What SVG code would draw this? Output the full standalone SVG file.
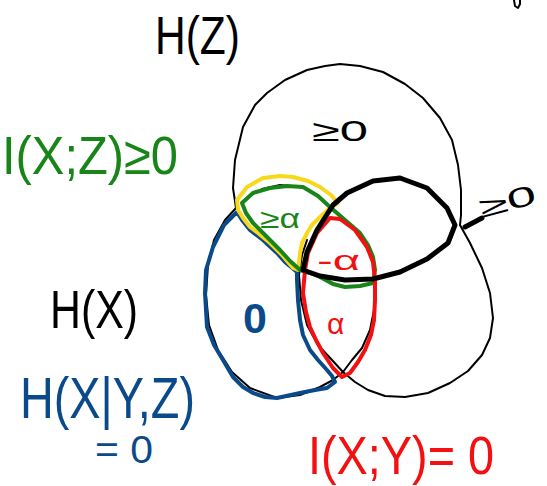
<svg xmlns="http://www.w3.org/2000/svg" width="547" height="486" viewBox="0 0 547 486">
<style>
.ln{fill:none;stroke-linecap:round;stroke-linejoin:round}
.thin{stroke:#000;stroke-width:2}
.thick{stroke:#000;stroke-width:5}
.g{stroke:#178517;stroke-width:4}
.b{stroke:#0b4a8a;stroke-width:4}
.r{stroke:#f21010;stroke-width:4}
.y{stroke:#f8d81c;stroke-width:4}
text{font-family:"Liberation Sans","DejaVu Sans",sans-serif;}
.tk{fill:#000}
.tg{fill:#178517}
.tb{fill:#0b4a8a}
.tr{fill:#f21010}
</style>
<rect width="547" height="486" fill="#fff"/>
<g id="circles">
<path id="circleZ" class="ln thin" d="M236,208 L233,188 L235,160 L243,127 L255,105 L267,93 L285,80 L307,70 L325,66 L340,64 L360,66 L383,72 L405,84 L423,98 L440,118 L452,140 L458,165 L461,190 L461,215 L460,225"/>
<path id="circleY" class="ln thin" d="M460,225 L470,243 L482,268 L490,293 L493,318 L490,338 L482,355 L468,371 L450,383 L428,393 L405,397 L385,396 L368,390 L355,382 L343,372 L332,360 L318,345 L307,325 L301,300 L299,275 L302,255 L307,240"/>
<path id="circleX" class="ln thin" d="M236,208 L225,220 L214,240 L208,265 L206,295 L209,325 L218,350 L232,372 L250,388 L277,398 L300,395 L320,387 L333,380 L343,372 L352,360 L362,348 L370,330 L375,305 L376,285"/>
<path class="ln thin" d="M262,189 L280,185 L300,187" stroke-width="3"/>
</g>
<g id="regionXnoYZ">
<path class="ln b" d="M237,212 L224,225 L213,247 L206,270 L205,293 L207,327 L214,345 L223,360 L233,377 L243,387 L253,393 L265,397 L277,398 L300,393 L315,390 L327,388 L335,382 L332,376 L327,370 L318,360 L310,350 L303,335 L300,320 L298,300 L297,280 L297,272 L285,262 L277,253 L263,240 L250,230 L242,220 Z"/>
</g>
<g id="regionXZ">
<path class="ln y" d="M237,200 L247,187 L263,178 L280,176 L293,177 L308,181 L320,187 L331,195 L338,203 L330,208 L320,217 L312,225 L307,233 L302,243 L300,253 L299,262 L298,270 L293,268 L282,255 L270,243 L258,233 L250,227 L243,218 L238,210 Z"/>
<path class="ln g" d="M242,203 L253,193 L270,188 L287,186 L303,187 L318,196 L330,207 L345,220 L360,233 L368,245 L373,257 L375,270 L373,283 L360,286 L345,287 L333,284 L320,277 L310,273 L300,270 L290,261 L280,250 L273,243 L263,233 L253,223 L246,213 Z"/>
</g>
<g id="regionXY">
<path class="ln r" d="M330,218 L317,233 L308,253 L305,270 L303,293 L306,312 L310,327 L316,340 L323,353 L333,368 L342,377 L350,373 L358,362 L365,350 L371,335 L374,320 L375,300 L375,280 L373,262 L367,247 L355,230 L340,219 Z"/>
</g>
<g id="ellipseYZ">
<path class="ln thick" d="M303,270 L307,252 L317,230 L333,205 L347,193 L373,181 L400,178 L427,188 L447,208 L455,225 L448,243 L427,259 L400,272 L373,279 L345,280 L320,276 Z"/>
</g>
<g id="connectors">
<path class="ln thick" stroke-width="3.5" d="M465,227 L482,218"/>
</g>
<g id="labels">
<text class="tk" x="155" y="54" font-size="53" textLength="85" lengthAdjust="spacingAndGlyphs">H(Z)</text>
<text class="tg" x="2" y="174" font-size="54" textLength="176" lengthAdjust="spacingAndGlyphs">I(X;Z)≥0</text>
<text class="tk" x="50" y="328" font-size="54" textLength="88" lengthAdjust="spacingAndGlyphs">H(X)</text>
<text class="tb" x="20" y="418" font-size="58" textLength="175" lengthAdjust="spacingAndGlyphs">H(X|Y,Z)</text>
<text class="tb" x="95" y="463" font-size="38" textLength="58" lengthAdjust="spacingAndGlyphs">= 0</text>
<text class="tr" x="308" y="474" font-size="54" textLength="186" lengthAdjust="spacingAndGlyphs">I(X;Y)= 0</text>
<text class="tk" x="312" y="141" font-size="30" textLength="56" lengthAdjust="spacingAndGlyphs">≥0</text>
<text class="tg" x="260" y="228" font-size="27" textLength="40" lengthAdjust="spacingAndGlyphs">≥α</text>
<text class="tr" x="317" y="270" font-size="28" textLength="43" lengthAdjust="spacingAndGlyphs">-α</text>
<text class="tr" x="327" y="334" font-size="30">α</text>
<text class="tb" x="243" y="333" font-size="43" font-weight="bold">0</text>
<text class="tk" x="482" y="218" font-size="28" textLength="58" lengthAdjust="spacingAndGlyphs" transform="rotate(-15 482 218)">≥0</text>
</g>
<path class="ln thin" stroke-width="3" d="M514,0 L515,6 L518,8 L520,4 L520,0"/>
</svg>
